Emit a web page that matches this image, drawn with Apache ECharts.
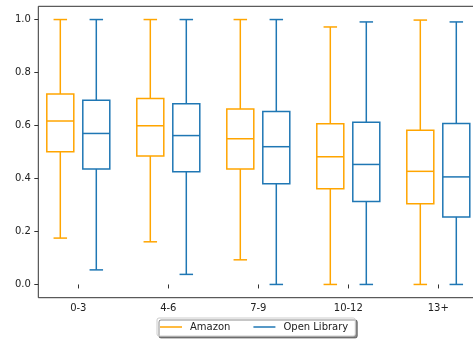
<!DOCTYPE html>
<html>
<head>
<meta charset="utf-8">
<script src="https://cdn.jsdelivr.net/npm/echarts@6/dist/echarts.min.js"></script>
<style>
  html, body { margin: 0; padding: 0; background: #fff; }
  #chart { width: 473px; height: 343px; }
</style>
</head>
<body>
<div id="chart"></div>
<script>
// Age-group categories on the x axis
const categories = ['0-3', '4-6', '7-9', '10-12', '13+'];

// Box statistics per category: [min, Q1, median, Q3, max]
const amazonStats = [
  [0.175, 0.501, 0.617, 0.719, 1.000],
  [0.161, 0.485, 0.599, 0.702, 1.000],
  [0.093, 0.436, 0.550, 0.662, 1.000],
  [0.000, 0.361, 0.482, 0.607, 0.972],
  [0.000, 0.305, 0.427, 0.582, 0.998]
];
const openLibraryStats = [
  [0.055, 0.436, 0.570, 0.695, 1.000],
  [0.038, 0.425, 0.562, 0.682, 1.000],
  [0.000, 0.380, 0.520, 0.653, 1.000],
  [0.000, 0.313, 0.453, 0.612, 0.991],
  [0.000, 0.255, 0.406, 0.608, 0.991]
];

// Y axis tick values
const yTicks = [0.0, 0.2, 0.4, 0.6, 0.8, 1.0];

const seriesNames = ['Amazon', 'Open Library'];
const colors = ['#ffa500', '#1f77b4'];

// Group layout in x-axis units
const GROUP_OFFSET = 0.2;
const BOX_WIDTH = 0.3;

function toItems(stats, offset) {
  return stats.map((s, i) => [i + 1 + offset].concat(s));
}

function renderBox(params, api) {
  const x = api.value(0);
  const vMin = api.value(1), q1 = api.value(2), med = api.value(3),
        q3 = api.value(4), vMax = api.value(5);
  const pMin = api.coord([x, vMin]);
  const pQ1 = api.coord([x, q1]);
  const pMed = api.coord([x, med]);
  const pQ3 = api.coord([x, q3]);
  const pMax = api.coord([x, vMax]);
  const half = api.size([BOX_WIDTH, 0])[0] / 2;
  const capHalf = half / 2;
  const cx = pMin[0];
  const style = { stroke: api.visual('color'), lineWidth: 1.5, fill: null };
  const line = (x1, y1, x2, y2) => ({ type: 'line', shape: { x1, y1, x2, y2 }, style });
  return {
    type: 'group',
    children: [
      { type: 'rect', shape: { x: cx - half, y: pQ3[1], width: half * 2, height: pQ1[1] - pQ3[1] }, style },
      line(cx - half, pMed[1], cx + half, pMed[1]),
      line(cx, pQ3[1], cx, pMax[1]),
      line(cx, pQ1[1], cx, pMin[1]),
      line(cx - capHalf, pMax[1], cx + capHalf, pMax[1]),
      line(cx - capHalf, pMin[1], cx + capHalf, pMin[1])
    ]
  };
}

const chart = echarts.init(document.getElementById('chart'), null, { renderer: 'canvas' });

const textColor = '#222';
const spineColor = '#333';
const fontFamily = '"DejaVu Sans", sans-serif';

chart.setOption({
  animation: false,
  color: colors,
  grid: {
    left: 38.3, top: 6.3, width: 440, bottom: 45.3,
    outerBoundsMode: 'none',
    containLabel: false,
    show: true, borderColor: spineColor, borderWidth: 1, backgroundColor: 'transparent'
  },
  xAxis: {
    type: 'value',
    min: 1 - 40 / 90,
    max: 5 + 40 / 90,
    axisLine: { show: false },
    splitLine: { show: false },
    axisTick: {
      show: true, length: 4, inside: false,
      customValues: categories.map((c, i) => i + 1),
      lineStyle: { color: spineColor, width: 1 }
    },
    axisLabel: {
      customValues: categories.map((c, i) => i + 1),
      formatter: v => categories[Math.round(v) - 1] || '',
      color: textColor, fontSize: 10, fontFamily, margin: 6
    }
  },
  yAxis: {
    type: 'value',
    min: -0.05,
    max: 1.05,
    axisLine: { show: false },
    splitLine: { show: false },
    axisTick: {
      show: true, length: 4, inside: false,
      customValues: yTicks,
      lineStyle: { color: spineColor, width: 1 }
    },
    axisLabel: {
      customValues: yTicks,
      formatter: v => v.toFixed(1),
      color: textColor, fontSize: 10, fontFamily, margin: 7.5
    }
  },
  legend: {
    data: seriesNames,
    left: 157, top: 318,
    orient: 'horizontal',
    icon: 'rect',
    itemWidth: 22, itemHeight: 1.5,
    itemGap: 23,
    padding: [4, 7, 4, 3],
    backgroundColor: '#fff',
    borderColor: '#ccc', borderWidth: 1, borderRadius: 2,
    shadowColor: 'rgba(0,0,0,0.45)', shadowBlur: 0, shadowOffsetX: 2, shadowOffsetY: 2,
    textStyle: { color: textColor, fontSize: 10, fontFamily, padding: [0, 0, 0, 3] }
  },
  series: [
    {
      name: seriesNames[0],
      type: 'custom',
      renderItem: renderBox,
      encode: { x: 0, y: [1, 2, 3, 4, 5] },
      data: toItems(amazonStats, -GROUP_OFFSET)
    },
    {
      name: seriesNames[1],
      type: 'custom',
      renderItem: renderBox,
      encode: { x: 0, y: [1, 2, 3, 4, 5] },
      data: toItems(openLibraryStats, GROUP_OFFSET)
    }
  ]
});
</script>
</body>
</html>
